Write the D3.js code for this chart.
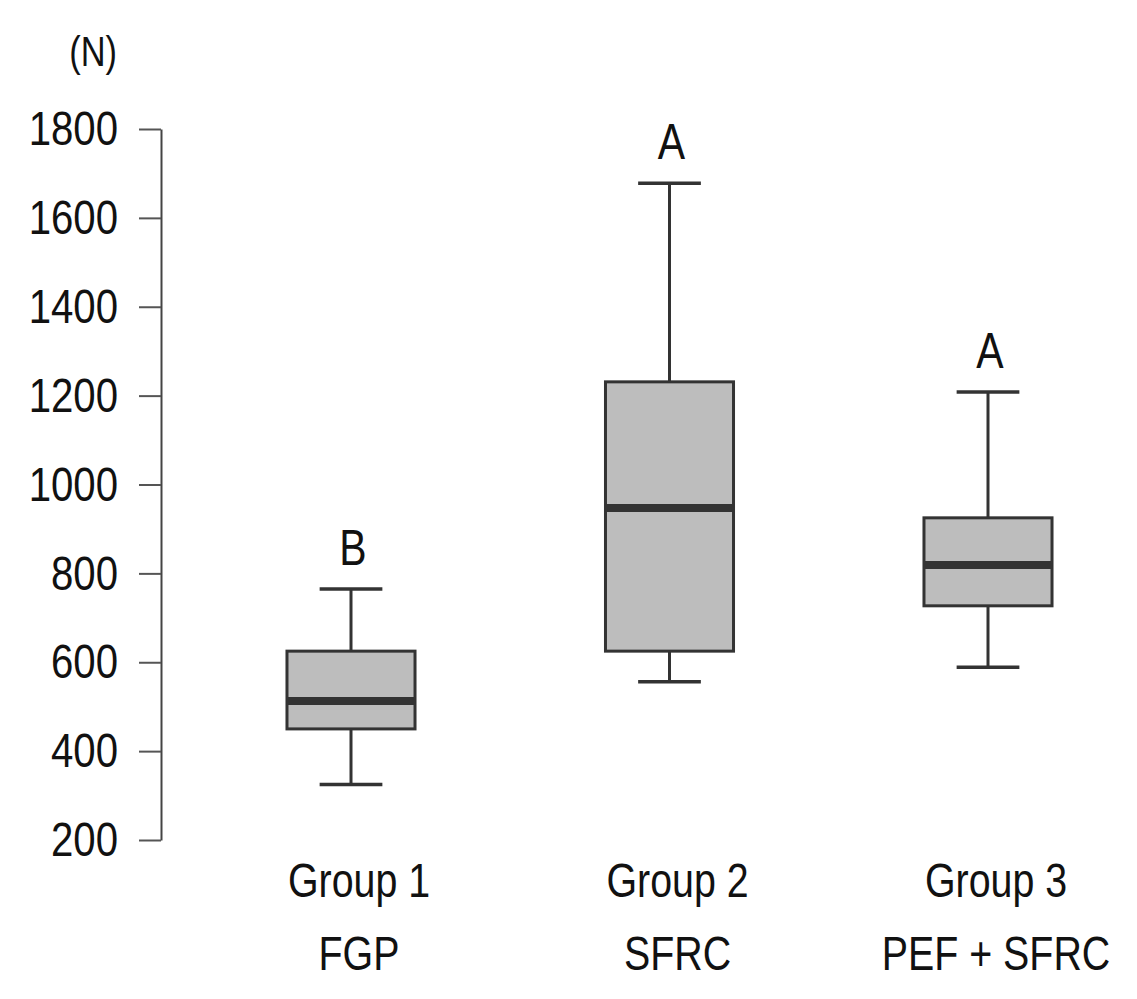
<!DOCTYPE html>
<html>
<head>
<meta charset="utf-8">
<script src="https://cdn.jsdelivr.net/npm/d3@7"></script>
<style>
  html, body { margin: 0; padding: 0; background: #fff; }
  svg { display: block; }
  text { font-family: "Liberation Sans", Arial, Helvetica, sans-serif; fill: #111; }
</style>
</head>
<body>
<svg id="chart" width="1137" height="999"></svg>
<script>
const categories = ["Group 1", "Group 2", "Group 3"];
const subLabels = ["FGP", "SFRC", "PEF + SFRC"];
const whiskerLow = [325, 556, 589];
const q1 = [450, 625, 727];
const median = [513, 947, 819];
const q3 = [625, 1231, 925];
const whiskerHigh = [765, 1678, 1208];
const letters = ["B", "A", "A"];
const yTicks = [200, 400, 600, 800, 1000, 1200, 1400, 1600, 1800];
const unitLabel = "(N)";

const NARROW = 0.82;
const svg = d3.select("#chart");

const y = d3.scaleLinear().domain([200, 1800]).range([840, 129]);
const x = d3.scalePoint().domain(categories).range([351, 988]);
const boxW = x.step() * 0.402;
const capW = boxW * 0.49;

const data = categories.map((c, i) => ({
  cat: c, sub: subLabels[i], lo: whiskerLow[i], q1: q1[i], med: median[i],
  q3: q3[i], hi: whiskerHigh[i], letter: letters[i]
}));

function narrowText(parent, tx, ty, size, anchor, str) {
  return parent.append("text")
    .attr("transform", `translate(${tx},${ty}) scale(${NARROW},1)`)
    .attr("text-anchor", anchor).attr("font-size", size).text(str);
}

// Y axis
const yAxis = d3.axisLeft(y).tickValues(yTicks).tickSize(22).tickSizeOuter(0).tickPadding(21)
  .tickFormat(d3.format("d"));
const gy = svg.append("g").attr("transform", "translate(161,0)").call(yAxis);
gy.select(".domain").attr("stroke", "#444").attr("stroke-width", 2);
gy.selectAll(".tick line").attr("stroke", "#555").attr("stroke-width", 2);
gy.selectAll(".tick text").attr("font-size", 49).attr("fill", "#111")
  .attr("x", -43 / NARROW).attr("transform", `scale(${NARROW},1)`)
  .style("font-family", '"Liberation Sans", Arial, sans-serif');

narrowText(svg, 117, 66, 42, "end", unitLabel);

const g = svg.append("g");
const stroke = "#333";

data.forEach(d => {
  const cx = x(d.cat);
  // whiskers
  g.append("line").attr("x1", cx).attr("x2", cx).attr("y1", y(d.hi)).attr("y2", y(d.q3))
    .attr("stroke", stroke).attr("stroke-width", 3);
  g.append("line").attr("x1", cx).attr("x2", cx).attr("y1", y(d.q1)).attr("y2", y(d.lo))
    .attr("stroke", stroke).attr("stroke-width", 3);
  g.append("line").attr("x1", cx - capW / 2).attr("x2", cx + capW / 2).attr("y1", y(d.hi)).attr("y2", y(d.hi))
    .attr("stroke", stroke).attr("stroke-width", 3.5);
  g.append("line").attr("x1", cx - capW / 2).attr("x2", cx + capW / 2).attr("y1", y(d.lo)).attr("y2", y(d.lo))
    .attr("stroke", stroke).attr("stroke-width", 3.5);
  // box
  g.append("rect").attr("x", cx - boxW / 2).attr("y", y(d.q3)).attr("width", boxW)
    .attr("height", y(d.q1) - y(d.q3)).attr("fill", "#bdbdbd").attr("stroke", stroke).attr("stroke-width", 3);
  // median
  g.append("line").attr("x1", cx - boxW / 2).attr("x2", cx + boxW / 2).attr("y1", y(d.med)).attr("y2", y(d.med))
    .attr("stroke", "#333").attr("stroke-width", 8);
  // letter
  narrowText(g, cx + 2, y(d.hi) - 24, 50, "middle", d.letter);
  // category labels
  narrowText(g, cx + 8, 897, 48, "middle", d.cat);
  narrowText(g, cx + 8, 970, 48, "middle", d.sub);
});
</script>
</body>
</html>
